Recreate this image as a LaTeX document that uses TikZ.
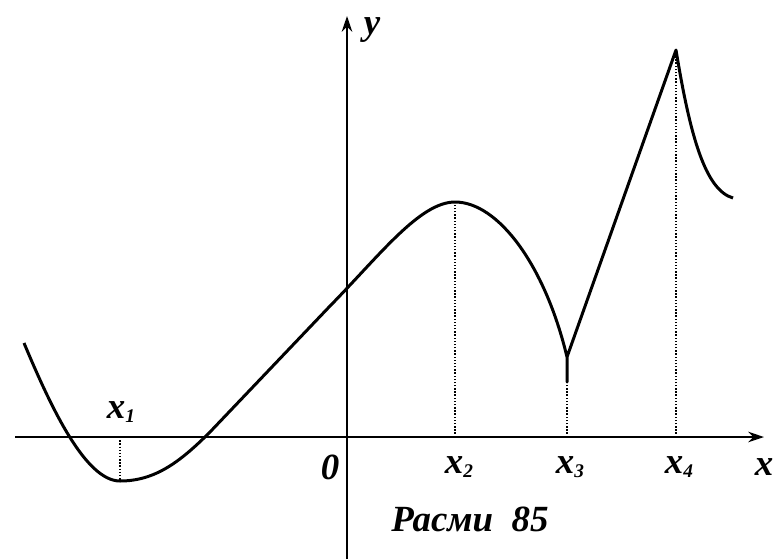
\documentclass[tikz,border=0pt]{standalone}
\usepackage{fontspec}
\setmainfont{Liberation Serif}
\usetikzlibrary{arrows.meta,positioning}

\begin{document}
\begin{tikzpicture}[x=0.02cm,y=-0.02cm,
  lbl/.style={font=\fontsize{21}{24}\selectfont\bfseries\itshape},
  axis/.style={line width=1.1pt,-{Stealth[length=9pt,width=6pt]}},
  curve/.style={line width=1.7pt,line join=round},
  guide/.style={densely dotted,line width=0.8pt}]
  \useasboundingbox (0,0) rectangle (784,559);
  % axes
  \coordinate (xs) at (15,437);
  \coordinate (xe) at (764,437);
  \coordinate (ys) at (347,559);
  \coordinate (ye) at (347,16);
  \draw[axis] (xs) -- (xe);
  \draw[axis] (ys) -- (ye);
  % points of the graph
  \coordinate (a) at (24,343);
  \coordinate (m1) at (120,481);
  \coordinate (m2) at (455,202);
  \coordinate (m3) at (567,357);
  \coordinate (m3b) at (567,382);
  \coordinate (m4) at (676,50);
  \coordinate (e) at (733,198);
  \coordinate (f1) at (120,437);
  \coordinate (f2) at (455,437);
  \coordinate (f3) at (567,437);
  \coordinate (f4) at (676,437);
  \draw[curve] (a) .. controls (50,405) and (85,481) .. (m1)
    .. controls (155,481) and (180,462) .. (210,432) -- (330,306)
    .. controls (380,255) and (420,202) .. (m2)
    .. controls (498,202) and (545,265) .. (m3) -- (m3b) -- (m3)
    -- (m4) .. controls (690,135) and (705,190) .. (e);
  \draw[guide] (f1) -- (m1);
  \draw[guide] (f2) -- (m2);
  \draw[guide] (f3) -- (m3b);
  \draw[guide] (f4) -- (m4);
  % labels
  \node[lbl] (lx1) at (121,412) {x\raisebox{-0.25ex}{\fontsize{11}{12}\selectfont 1}};
  \node[lbl] (lo) at (330,467) {0};
  \node[lbl] (lx2) at (459,467) {x\raisebox{-0.25ex}{\fontsize{11}{12}\selectfont 2}};
  \node[lbl] (lx3) at (570,467) {x\raisebox{-0.25ex}{\fontsize{11}{12}\selectfont 3}};
  \node[lbl] (lx4) at (679,467) {x\raisebox{-0.25ex}{\fontsize{11}{12}\selectfont 4}};
  \node[lbl] (lx) at (764,467) {x};
  \node[lbl] (ly) at (372,30) {y};
  \node[lbl] (cap) at (470,519) {Расми\ \ 85};
\end{tikzpicture}
\end{document}
